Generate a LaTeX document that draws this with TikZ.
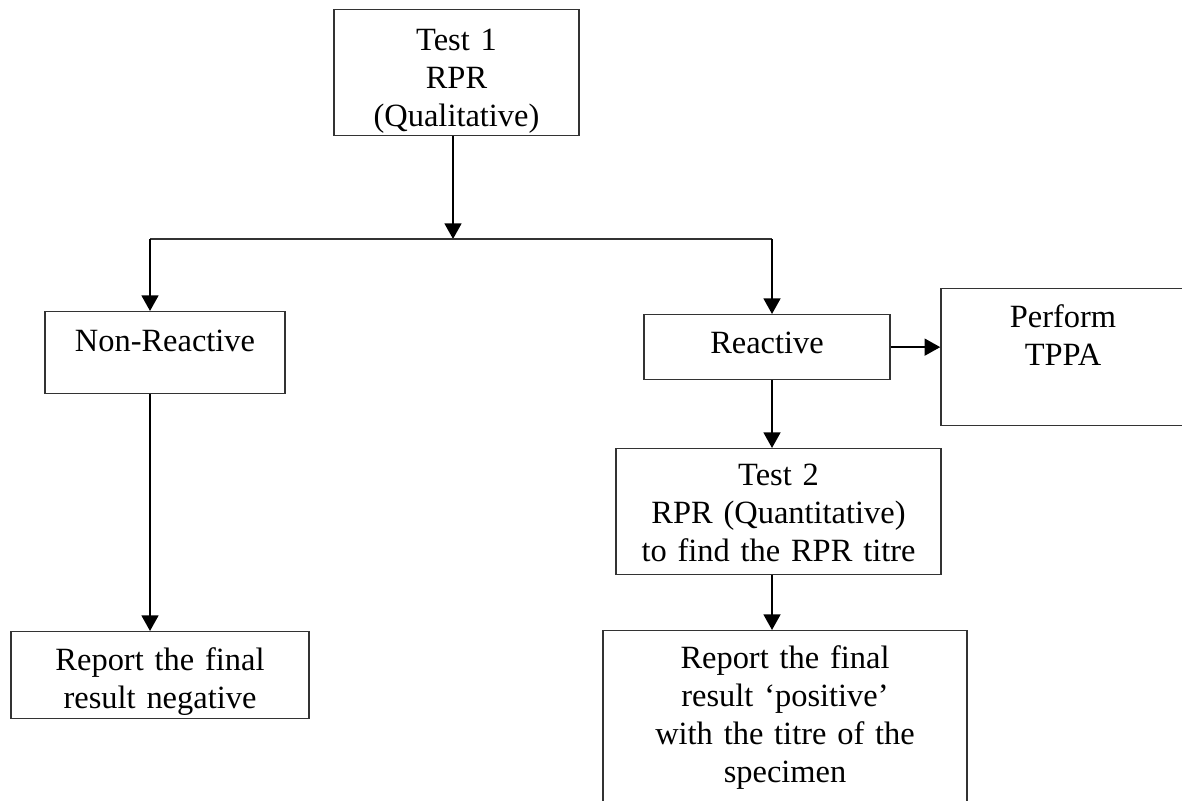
\documentclass[tikz,border=0pt]{standalone}
\usepackage{fontspec}
\setmainfont{Liberation Serif}
\usetikzlibrary{arrows.meta}

\begin{document}
\begin{tikzpicture}[x=0.013cm, y=-0.013cm, >={Triangle[length=5.8pt, width=6.2pt]},
  box/.style={draw=black!80, line width=0.5pt, rectangle, anchor=north, inner sep=0pt, align=center, font=\fontsize{12}{14}\selectfont},
  flow/.style={->, line width=0.9pt}]

\useasboundingbox (0,0) rectangle (1182,800);

% Define the nodes with coordinates
\node[box, text width=90.6pt, text height=15.2pt, text depth=31.4pt] (T1) at (456.5,9) {Test 1\\RPR\\(Qualitative)};
\node[box, text width=88.8pt, text height=14.8pt, text depth=15.5pt] (NR) at (165,311) {Non-Reactive};
\node[box, text width=91pt, text height=14.4pt, text depth=9.6pt] (RE) at (767,314) {Reactive};
\node[box, text width=90.3pt, text height=14.4pt, text depth=36.2pt] (TP) at (1063,288) {Perform\\TPPA};
\node[box, text width=120.2pt, text height=13.7pt, text depth=32.9pt] (T2) at (778.5,448) {Test 2\\RPR (Quantitative)\\to find the RPR titre};
\node[box, text width=134.6pt, text height=14.1pt, text depth=64pt] (PO) at (785,630) {Report the final\\result ‘positive’\\with the titre of the\\specimen};
\node[box, text width=110.2pt, text height=14.4pt, text depth=17.8pt] (NE) at (160,631) {Report the final\\result negative};

% Split points
\coordinate (split) at (453,239);
\coordinate (lft) at (150,239);
\coordinate (rgt) at (772,239);

% Draw the edges
\draw[flow] (split |- T1.south) -- (split);
\draw[draw=black!80, line width=0.5pt] (lft) -- (rgt);
\draw[flow] (lft) -- (lft |- NR.north);
\draw[flow] (rgt) -- (rgt |- RE.north);
\draw[flow] (RE.east) -- (RE.east -| TP.west);
\draw[flow] (rgt |- RE.south) -- (rgt |- T2.north);
\draw[flow] (rgt |- T2.south) -- (rgt |- PO.north);
\draw[flow] (lft |- NR.south) -- (lft |- NE.north);

\end{tikzpicture}
\end{document}
